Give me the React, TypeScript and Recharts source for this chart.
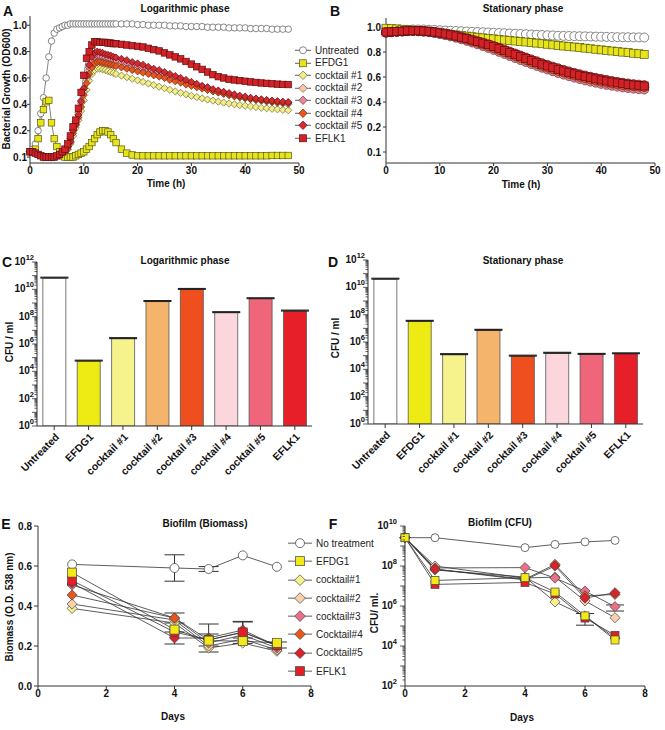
import React from "react";
import { LineChart, Line, BarChart, Bar, Cell, XAxis, YAxis, Legend, ErrorBar } from "recharts";

const FONT = "'Liberation Sans', Arial, Helvetica, sans-serif";

// ---------- Panel A: logarithmic phase growth (OD600) ----------
const timesA = [
  0, 0.5, 1, 1.5, 2, 2.5, 3, 3.5, 4, 4.5, 5, 5.5, 6, 6.5, 7, 7.5,
  8, 8.5, 9, 9.5, 10, 10.5, 11, 11.5, 12, 12.5, 13, 13.5, 14, 14.5, 15, 15.5, 16,
  17, 18, 19, 20, 21, 22, 23, 24, 25, 26, 27, 28, 29, 30, 31, 32,
  33, 34, 35, 36, 37, 38, 39, 40, 41, 42, 43, 44, 45, 46, 47, 48,
];
const untreatedA = [
  0.12, 0.13, 0.15, 0.2, 0.33, 0.45, 0.6, 0.76, 0.88, 0.94, 0.97, 0.98, 0.99, 1.0, 1.0, 1.01,
  1.01, 1.01, 1.01, 1.01, 1.01, 1.01, 1.01, 1.01, 1.01, 1.01, 1.01, 1.01, 1.01, 1.01, 1.01, 1.01, 1.01,
  1.01, 1.01, 1.01, 1.005, 1.005, 1.0, 1.0, 1.0, 1.0, 0.995, 0.995, 0.995, 0.99, 0.99, 0.99, 0.99,
  0.985, 0.985, 0.985, 0.985, 0.98, 0.98, 0.98, 0.98, 0.975, 0.975, 0.975, 0.975, 0.97, 0.97, 0.97, 0.97,
];
const efdg1A = [
  0.12, 0.12, 0.13, 0.17, 0.26, 0.36, 0.42, 0.43, 0.26, 0.17, 0.14, 0.12, 0.105, 0.1, 0.1, 0.1,
  0.1, 0.105, 0.11, 0.115, 0.12, 0.13, 0.14, 0.155, 0.17, 0.185, 0.195, 0.2, 0.2, 0.195, 0.185, 0.17, 0.155,
  0.13, 0.115, 0.108, 0.105, 0.105, 0.105, 0.105, 0.105, 0.105, 0.105, 0.105, 0.105, 0.105, 0.105, 0.105, 0.105,
  0.105, 0.105, 0.105, 0.105, 0.105, 0.105, 0.105, 0.105, 0.105, 0.105, 0.105, 0.105, 0.106, 0.106, 0.106, 0.106,
];
const cocktail1A = [
  0.12, 0.12, 0.115, 0.11, 0.105, 0.1, 0.1, 0.1, 0.1, 0.1, 0.105, 0.11, 0.115, 0.12, 0.13, 0.15,
  0.18, 0.22, 0.28, 0.35, 0.43, 0.51, 0.58, 0.63, 0.66, 0.67, 0.67, 0.665, 0.66, 0.652, 0.645, 0.638, 0.63,
  0.618, 0.606, 0.594, 0.582, 0.57, 0.558, 0.546, 0.534, 0.522, 0.51, 0.498, 0.487, 0.476, 0.465, 0.455, 0.445,
  0.436, 0.428, 0.42, 0.413, 0.406, 0.4, 0.394, 0.389, 0.384, 0.379, 0.374, 0.37, 0.366, 0.362, 0.358, 0.355,
];
const cocktail2A = [
  0.12, 0.12, 0.115, 0.11, 0.105, 0.1, 0.1, 0.1, 0.1, 0.1, 0.105, 0.11, 0.115, 0.12, 0.135, 0.16,
  0.2, 0.25, 0.32, 0.41, 0.5, 0.59, 0.66, 0.71, 0.74, 0.75, 0.75, 0.745, 0.74, 0.735, 0.725, 0.72, 0.715,
  0.705, 0.695, 0.685, 0.675, 0.665, 0.65, 0.64, 0.625, 0.615, 0.6, 0.59, 0.575, 0.56, 0.55, 0.535, 0.525,
  0.51, 0.5, 0.49, 0.48, 0.47, 0.46, 0.452, 0.445, 0.438, 0.432, 0.426, 0.42, 0.415, 0.41, 0.405, 0.4,
];
const cocktail3A = [
  0.12, 0.12, 0.115, 0.11, 0.105, 0.1, 0.1, 0.1, 0.1, 0.1, 0.105, 0.11, 0.115, 0.125, 0.14, 0.17,
  0.21, 0.27, 0.34, 0.43, 0.52, 0.61, 0.68, 0.73, 0.76, 0.77, 0.765, 0.76, 0.755, 0.75, 0.74, 0.735, 0.73,
  0.72, 0.71, 0.7, 0.69, 0.68, 0.665, 0.65, 0.64, 0.625, 0.61, 0.6, 0.585, 0.57, 0.56, 0.545, 0.535,
  0.52, 0.51, 0.5, 0.49, 0.48, 0.47, 0.46, 0.453, 0.446, 0.44, 0.434, 0.429, 0.424, 0.419, 0.415, 0.411,
];
const cocktail4A = [
  0.12, 0.12, 0.115, 0.11, 0.105, 0.1, 0.1, 0.1, 0.1, 0.1, 0.105, 0.11, 0.115, 0.12, 0.13, 0.155,
  0.19, 0.24, 0.3, 0.38, 0.47, 0.56, 0.63, 0.68, 0.71, 0.72, 0.72, 0.715, 0.71, 0.705, 0.7, 0.695, 0.69,
  0.68, 0.67, 0.66, 0.65, 0.64, 0.63, 0.62, 0.61, 0.6, 0.585, 0.575, 0.565, 0.55, 0.54, 0.53, 0.52,
  0.51, 0.5, 0.49, 0.48, 0.47, 0.462, 0.455, 0.448, 0.441, 0.435, 0.43, 0.425, 0.42, 0.416, 0.412, 0.41,
];
const cocktail5A = [
  0.12, 0.12, 0.115, 0.11, 0.105, 0.1, 0.1, 0.1, 0.1, 0.1, 0.105, 0.11, 0.115, 0.125, 0.14, 0.16,
  0.2, 0.25, 0.32, 0.42, 0.52, 0.62, 0.7, 0.76, 0.79, 0.8, 0.795, 0.79, 0.78, 0.775, 0.77, 0.76, 0.755,
  0.745, 0.735, 0.72, 0.71, 0.7, 0.685, 0.67, 0.66, 0.645, 0.63, 0.615, 0.6, 0.585, 0.57, 0.555, 0.54,
  0.53, 0.515, 0.505, 0.495, 0.485, 0.475, 0.465, 0.458, 0.45, 0.444, 0.438, 0.433, 0.428, 0.424, 0.42, 0.417,
];
const eflk1A = [
  0.12, 0.12, 0.115, 0.11, 0.105, 0.1, 0.1, 0.1, 0.1, 0.1, 0.105, 0.11, 0.12, 0.13, 0.15, 0.18,
  0.23, 0.28, 0.37, 0.49, 0.62, 0.75, 0.8, 0.85, 0.875, 0.875, 0.87, 0.87, 0.87, 0.865, 0.865, 0.86, 0.86,
  0.855, 0.85, 0.845, 0.84, 0.835, 0.825, 0.815, 0.805, 0.79, 0.775, 0.76, 0.745, 0.725, 0.705, 0.685, 0.665,
  0.645, 0.625, 0.61, 0.6, 0.59, 0.585, 0.58, 0.575, 0.57, 0.566, 0.562, 0.559, 0.556, 0.553, 0.551, 0.55,
];

// ---------- Panel B: stationary phase (OD600) ----------
const timesB = [
  0, 1, 2, 3, 4, 5, 6, 7, 8, 9, 10, 11, 12, 13, 14, 15, 16, 17, 18, 19, 20, 21, 22, 23, 24,
  25, 26, 27, 28, 29, 30, 31, 32, 33, 34, 35, 36, 37, 38, 39, 40, 41, 42, 43, 44, 45, 46, 47, 48,
];
const untreatedB = [
  0.96, 0.965, 0.97, 0.975, 0.978, 0.98, 0.98, 0.98, 0.978, 0.976,
  0.974, 0.972, 0.97, 0.968, 0.966, 0.964, 0.962, 0.96, 0.958, 0.956,
  0.954, 0.952, 0.95, 0.948, 0.946, 0.944, 0.942, 0.94, 0.938, 0.936,
  0.934, 0.932, 0.93, 0.929, 0.928, 0.927, 0.926, 0.925, 0.924, 0.923,
  0.922, 0.921, 0.92, 0.919, 0.918, 0.918, 0.917, 0.917, 0.916,
];
const efdg1B = [
  0.99, 0.988, 0.985, 0.982, 0.978, 0.975, 0.971, 0.967, 0.962, 0.957,
  0.952, 0.947, 0.942, 0.937, 0.932, 0.927, 0.922, 0.918, 0.913, 0.909,
  0.905, 0.9, 0.896, 0.892, 0.888, 0.884, 0.88, 0.875, 0.871, 0.866,
  0.862, 0.857, 0.853, 0.848, 0.844, 0.84, 0.835, 0.831, 0.826, 0.822,
  0.817, 0.813, 0.808, 0.804, 0.799, 0.795, 0.79, 0.786, 0.781,
];
const cocktail1B = [
  0.958, 0.961, 0.964, 0.966, 0.968, 0.969, 0.968, 0.966, 0.962, 0.957,
  0.951, 0.943, 0.934, 0.924, 0.913, 0.901, 0.889, 0.876, 0.863, 0.849,
  0.834, 0.819, 0.803, 0.787, 0.771, 0.755, 0.739, 0.723, 0.708, 0.693,
  0.679, 0.665, 0.652, 0.639, 0.627, 0.615, 0.604, 0.594, 0.584, 0.575,
  0.566, 0.558, 0.551, 0.544, 0.538, 0.533, 0.528, 0.524, 0.52,
];
const cocktail2B = [
  0.956, 0.959, 0.962, 0.965, 0.967, 0.968, 0.967, 0.965, 0.961, 0.956,
  0.949, 0.941, 0.932, 0.922, 0.911, 0.899, 0.887, 0.874, 0.86, 0.846,
  0.831, 0.815, 0.799, 0.783, 0.767, 0.751, 0.735, 0.719, 0.704, 0.689,
  0.675, 0.661, 0.648, 0.635, 0.623, 0.611, 0.6, 0.589, 0.579, 0.57,
  0.561, 0.553, 0.545, 0.538, 0.532, 0.527, 0.522, 0.518, 0.515,
];
const cocktail3B = [
  0.957, 0.96, 0.963, 0.965, 0.967, 0.967, 0.966, 0.963, 0.958, 0.952,
  0.944, 0.935, 0.925, 0.914, 0.902, 0.889, 0.876, 0.862, 0.848, 0.833,
  0.817, 0.801, 0.785, 0.768, 0.752, 0.736, 0.72, 0.704, 0.689, 0.674,
  0.66, 0.646, 0.632, 0.619, 0.607, 0.595, 0.584, 0.573, 0.563, 0.554,
  0.545, 0.537, 0.53, 0.523, 0.517, 0.512, 0.507, 0.503, 0.5,
];
const cocktail4B = [
  0.958, 0.96, 0.963, 0.966, 0.968, 0.969, 0.968, 0.966, 0.962, 0.957,
  0.95, 0.942, 0.933, 0.923, 0.912, 0.9, 0.888, 0.875, 0.861, 0.847,
  0.832, 0.816, 0.8, 0.784, 0.768, 0.752, 0.736, 0.72, 0.705, 0.69,
  0.676, 0.662, 0.649, 0.636, 0.624, 0.612, 0.601, 0.591, 0.581, 0.572,
  0.563, 0.555, 0.548, 0.541, 0.535, 0.53, 0.526, 0.523, 0.52,
];
const cocktail5B = [
  0.955, 0.958, 0.962, 0.965, 0.968, 0.969, 0.969, 0.968, 0.965, 0.961,
  0.955, 0.948, 0.94, 0.931, 0.921, 0.91, 0.899, 0.887, 0.875, 0.862,
  0.848, 0.834, 0.819, 0.804, 0.788, 0.772, 0.756, 0.741, 0.726, 0.711,
  0.697, 0.683, 0.67, 0.657, 0.645, 0.633, 0.622, 0.612, 0.602, 0.593,
  0.584, 0.576, 0.568, 0.561, 0.554, 0.548, 0.543, 0.539, 0.535,
];
const eflk1B = [
  0.96, 0.962, 0.965, 0.967, 0.97, 0.97, 0.97, 0.968, 0.965, 0.96,
  0.953, 0.945, 0.937, 0.928, 0.918, 0.907, 0.896, 0.884, 0.871, 0.858,
  0.844, 0.829, 0.813, 0.797, 0.781, 0.765, 0.749, 0.733, 0.717, 0.702,
  0.688, 0.674, 0.661, 0.648, 0.636, 0.625, 0.614, 0.604, 0.594, 0.585,
  0.576, 0.568, 0.56, 0.553, 0.547, 0.541, 0.536, 0.532, 0.528,
];

const timeTicks = [0, 10, 20, 30, 40, 50];
const odTickPos = [0, 0.2, 0.4, 0.6, 0.8, 1.0];
const odTickLabels = ["0.1", "0.2", "0.4", "0.6", "0.8", "1.0"];

// ---------- Panels C / D: CFU per ml ----------
const barCategories = ["Untreated", "EFDG1", "cocktail #1", "cocktail #2", "cocktail #3", "cocktail #4", "cocktail #5", "EFLK1"];
const cfuLog = [6.7e10, 5.7e4, 2.5e6, 1.3e9, 1.0e10, 2.0e8, 2.1e9, 2.6e8];
const cfuLogErr = [1e10, 8e3, 4e5, 2e8, 1.5e9, 3e7, 3e8, 4e7];
const cfuStat = [4.0e10, 3.3e7, 1.2e5, 7.2e6, 9.3e4, 1.5e5, 1.25e5, 1.4e5];
const cfuStatErr = [6e9, 5e6, 2e4, 1.2e6, 1.5e4, 2.5e4, 2e4, 2e4];
const barColors = ["#ffffff", "#eeea14", "#f6f38c", "#f5b46c", "#ef4e1f", "#fbd6dd", "#ef6579", "#e61f29"];
const cfuMajorExp = [0, 2, 4, 6, 8, 10, 12];

// ---------- Panel E: biofilm biomass ----------
const biomassDays = [1, 4, 5, 6, 7];
const eNoTreatment = [0.608, 0.59, 0.585, 0.653, 0.596];
const eNoTreatmentErr = [null, 0.066, 0.012, null, null];
const eEFDG1 = [0.567, 0.282, 0.227, 0.224, 0.216];
const eCocktail1 = [0.388, 0.315, 0.19, 0.215, 0.174];
const eCocktail2 = [0.41, 0.33, 0.2, 0.235, 0.18];
const eCocktail3 = [0.505, 0.34, 0.215, 0.255, 0.19];
const eCocktail4 = [0.455, 0.34, 0.23, 0.27, 0.2];
const eCocktail4Err = [null, 0.025, null, null, null];
const eCocktail5 = [0.515, 0.24, 0.24, 0.28, 0.2];
const eCocktail5Err = [null, 0.03, 0.07, 0.04, null];
const eEFLK1 = [0.527, 0.27, 0.23, 0.268, 0.205];
const eEFLK1Err = [null, null, 0.03, 0.055, 0.015];
const dayTicks = [0, 2, 4, 6, 8];
const biomassTicks = [0, 0.2, 0.4, 0.6, 0.8];

// ---------- Panel F: biofilm CFU ----------
const cfuDays = [0, 1, 4, 5, 6, 7];
const fNoTreatment = [2.6e9, 2.6e9, 8.3e8, 1.2e9, 1.6e9, 1.9e9];
const fEFDG1 = [2.6e9, 1.9e7, 2.6e7, 5e6, 3.2e5, 2e4];
const fEFDG1Err = [null, null, null, null, [2.1e5, 1e5], null];
const fCocktail1 = [2.6e9, 6.3e7, 2.8e7, 1.6e6, 3.2e5, 2.5e4];
const fCocktail2 = [2.6e9, 1e8, 2.5e7, 2.8e7, 1.8e6, 2.6e5];
const fCocktail3 = [2.6e9, 8e7, 8.3e7, 2.5e7, 5.6e6, 9.3e5];
const fCocktail3Err = [null, null, null, null, null, [3.7e5, 2e5]];
const fCocktail4 = [2.6e9, 7e7, 2.2e7, 1.2e8, 3.2e6, 3.8e6];
const fCocktail5 = [2.6e9, 7e7, 2e7, 1e8, 2.5e6, 4.6e6];
const fEFLK1 = [2.6e9, 1.2e7, 1.5e7, 4e6, 2.5e5, 3.4e4];
const biofilmCfuMajorExp = [2, 4, 6, 8, 10];

// ---------- helpers ----------
type Shape = "circle" | "square" | "diamond";

function Marker({ shape, cx, cy, size, fill, stroke, sw = 0.7 }: any) {
  const h = size / 2;
  if (shape === "circle") return <circle cx={cx} cy={cy} r={h} fill={fill} stroke={stroke} strokeWidth={sw} />;
  if (shape === "square")
    return <rect x={cx - h} y={cy - h} width={size} height={size} fill={fill} stroke={stroke} strokeWidth={sw} />;
  const d = h * 1.2;
  return (
    <polygon
      points={`${cx},${cy - d} ${cx + d},${cy} ${cx},${cy + d} ${cx - d},${cy}`}
      fill={fill}
      stroke={stroke}
      strokeWidth={sw}
    />
  );
}

const dotFor = (s: any, size: number, shape?: Shape) => (p: any) => {
  const k = `${s.key}-${p.index}`;
  if (p.cx == null || p.cy == null || p.value == null) return <g key={k} />;
  return <Marker key={k} shape={shape || s.shape} cx={p.cx} cy={p.cy} size={size} fill={s.fill} stroke={s.stroke} />;
};

function LegendList({ items, rowH, size, svgW, fontSize }: any) {
  return (
    <div style={{ fontFamily: FONT, fontSize, color: "#222" }}>
      {items.map((it: any) => (
        <div key={it.key} style={{ display: "flex", alignItems: "center", height: rowH, whiteSpace: "nowrap" }}>
          <svg width={svgW} height={rowH} style={{ flex: "none" }}>
            <line x1={1} x2={svgW - 1} y1={rowH / 2} y2={rowH / 2} stroke="#333" strokeWidth={0.8} />
            <Marker shape={it.shape} cx={svgW / 2} cy={rowH / 2} size={size} fill={it.fill} stroke={it.stroke} />
          </svg>
          <span style={{ marginLeft: 3 }}>{it.name}</span>
        </div>
      ))}
    </div>
  );
}

function Txt({ x, y, size = 10, bold = true, rot = false, children }: any) {
  return (
    <div
      style={{
        position: "absolute",
        left: x,
        top: y,
        transform: `translate(-50%,-50%)${rot ? " rotate(-90deg)" : ""}`,
        fontFamily: FONT,
        fontSize: size,
        fontWeight: bold ? 700 : 400,
        whiteSpace: "nowrap",
        color: "#111",
        lineHeight: 1,
      }}
    >
      {children}
    </div>
  );
}

// segmented OD axis: 0.1-0.2 drawn with the same length as 0.2-0.4
const brk = (v: number) => (v >= 0.2 ? v : 0.2 - (0.2 - v) * 2);

const logTicksFor = (lo: number, hi: number) => {
  const out: number[] = [];
  for (let e = lo; e < hi; e++) for (let m = 1; m < 10; m++) out.push(m * Math.pow(10, e));
  out.push(Math.pow(10, hi));
  return out;
};

const logTick = (axisX: number, majors: number[], gap: number) => (p: any) => {
  const v = p.payload.value;
  const e = Math.round(Math.log10(v));
  const isPow = Math.abs(v - Math.pow(10, e)) < v * 1e-6;
  const len = isPow ? 5 : 2.5;
  return (
    <g>
      <line x1={axisX} x2={axisX - len} y1={p.y} y2={p.y} stroke="#333" strokeWidth={0.8} />
      {isPow && majors.includes(e) && (
        <text x={axisX - gap} y={p.y + 3} textAnchor="end" fontSize={10} fontWeight="bold" fill="#111" fontFamily={FONT}>
          10
          <tspan dy={-5} fontSize={7.5}>
            {e}
          </tspan>
        </text>
      )}
    </g>
  );
};

const RotTick = (p: any) => (
  <g transform={`translate(${p.x},${p.y}) rotate(-45)`}>
    <text x={0} y={0} dy={8} textAnchor="end" fontSize={10.5} fontWeight="bold" fill="#111" fontFamily={FONT}>
      {p.payload.value}
    </text>
  </g>
);

const tickStyle = { fontSize: 10, fontWeight: "bold", fill: "#111", fontFamily: FONT };

// ---------- series definitions ----------
const seriesGrowth = [
  { key: "untreated", name: "Untreated", shape: "circle", fill: "#ffffff", stroke: "#555", a: untreatedA, b: untreatedB },
  { key: "efdg1", name: "EFDG1", shape: "square", fill: "#e8e41a", stroke: "#5a5a10", a: efdg1A, b: efdg1B },
  { key: "c1", name: "cocktail #1", shape: "diamond", fill: "#f2ee8a", stroke: "#6b6b30", a: cocktail1A, b: cocktail1B },
  { key: "c2", name: "cocktail #2", shape: "diamond", fill: "#f6c6a6", stroke: "#7a5a4a", a: cocktail2A, b: cocktail2B },
  { key: "c3", name: "cocktail #3", shape: "diamond", fill: "#e8879a", stroke: "#6a3040", a: cocktail3A, b: cocktail3B },
  { key: "c4", name: "cocktail #4", shape: "diamond", fill: "#e8561f", stroke: "#6a2a10", a: cocktail4A, b: cocktail4B },
  { key: "c5", name: "cocktail #5", shape: "diamond", fill: "#d52a30", stroke: "#5a1010", a: cocktail5A, b: cocktail5B },
  { key: "eflk1", name: "EFLK1", shape: "square", fill: "#d42027", stroke: "#5a1010", a: eflk1A, b: eflk1B },
];

const rowsA = timesA.map((t, i) => {
  const r: any = { t };
  seriesGrowth.forEach((s) => (r[s.key] = brk(s.a[i])));
  return r;
});
const rowsB = timesB.map((t, i) => {
  const r: any = { t };
  seriesGrowth.forEach((s) => (r[s.key] = brk(s.b[i])));
  return r;
});

const rowsC = barCategories.map((name, i) => ({ name, value: cfuLog[i], err: [0, cfuLogErr[i]] }));
const rowsD = barCategories.map((name, i) => ({ name, value: cfuStat[i], err: [0, cfuStatErr[i]] }));

const seriesBiofilm = [
  { key: "nt", name: "No treatment", shape: "circle", fill: "#ffffff", stroke: "#333", e: eNoTreatment, eErr: eNoTreatmentErr, f: fNoTreatment },
  { key: "c1", name: "cocktail#1", shape: "diamond", fill: "#f7f08e", stroke: "#444", e: eCocktail1, f: fCocktail1 },
  { key: "c2", name: "cocktail#2", shape: "diamond", fill: "#f9d2ad", stroke: "#444", e: eCocktail2, f: fCocktail2 },
  { key: "c3", name: "cocktail#3", shape: "diamond", fill: "#ea6f88", stroke: "#444", e: eCocktail3, f: fCocktail3, fErr: fCocktail3Err },
  { key: "c4", name: "Cocktail#4", shape: "diamond", fill: "#e8571a", stroke: "#444", e: eCocktail4, eErr: eCocktail4Err, f: fCocktail4 },
  { key: "c5", name: "Cocktail#5", shape: "diamond", fill: "#d8232c", stroke: "#444", e: eCocktail5, eErr: eCocktail5Err, f: fCocktail5 },
  { key: "eflk1", name: "EFLK1", shape: "square", fill: "#e41e26", stroke: "#444", e: eEFLK1, eErr: eEFLK1Err, f: fEFLK1 },
  { key: "efdg1", name: "EFDG1", shape: "square", fill: "#f2ea16", stroke: "#444", e: eEFDG1, f: fEFDG1, fErr: fEFDG1Err },
];
const legendOrderBiofilm = ["nt", "efdg1", "c1", "c2", "c3", "c4", "c5", "eflk1"].map((k) =>
  seriesBiofilm.find((s) => s.key === k)
);

const rowsE = biomassDays.map((day, i) => {
  const r: any = { day };
  seriesBiofilm.forEach((s: any) => {
    r[s.key] = s.e[i];
    if (s.eErr && s.eErr[i] != null) r[s.key + "Err"] = s.eErr[i];
  });
  return r;
});
const rowsF = cfuDays.map((day, i) => {
  const r: any = { day };
  seriesBiofilm.forEach((s: any) => {
    r[s.key] = s.f[i];
    if (s.fErr && s.fErr[i] != null) r[s.key + "Err"] = s.fErr[i];
  });
  return r;
});

function GrowthChart({ rows, domain, yWidth, margin, width, legend }: any) {
  return (
    <LineChart width={width} height={200} data={rows} margin={margin}>
      <XAxis dataKey="t" type="number" domain={[0, 50]} ticks={timeTicks} tick={tickStyle} tickSize={3} tickMargin={1} stroke="#333" height={26} />
      <YAxis
        type="number"
        domain={domain}
        ticks={odTickPos}
        tickFormatter={(v: number, i: number) => odTickLabels[i]}
        width={yWidth}
        tick={tickStyle}
        tickSize={3}
        tickMargin={legend ? 0 : 2}
        stroke="#333"
        allowDataOverflow
      />
      {legend && (
        <Legend
          layout="vertical"
          align="center"
          verticalAlign="middle"
          wrapperStyle={{ left: 294, top: 44, width: 76 }}
          content={() => <LegendList items={seriesGrowth} rowH={12.55} size={7} svgW={18} fontSize={10} />}
        />
      )}
      {seriesGrowth.map((s) => (
        <Line
          key={s.key}
          dataKey={s.key}
          type="linear"
          stroke="#333"
          strokeWidth={0.6}
          dot={legend ? dotFor(s, s.shape === "diamond" ? 6 : 6.5) : dotFor(s, s.shape === "square" ? 8 : 9, s.shape === "square" ? "square" : "circle")}
          activeDot={false}
          isAnimationActive={false}
        />
      ))}
    </LineChart>
  );
}

function CfuBars({ rows, width, margin, yWidth, xHeight }: any) {
  return (
    <BarChart width={width} height={240} data={rows} margin={margin} barCategoryGap="17%">
      <XAxis dataKey="name" type="category" interval={0} height={xHeight} tick={RotTick} tickSize={4} stroke="#333" />
      <YAxis
        type="number"
        scale="log"
        domain={[1, 1e12]}
        ticks={logTicksFor(0, 12)}
        interval={0}
        width={yWidth}
        tick={logTick(yWidth, cfuMajorExp, 3)}
        tickLine={false}
        stroke="#333"
        allowDataOverflow
      />
      <Bar dataKey="value" isAnimationActive={false} stroke="#555" strokeWidth={0.8}>
        {rows.map((_: any, i: number) => (
          <Cell key={i} fill={barColors[i]} />
        ))}
        <ErrorBar dataKey="err" width={14} stroke="#222" strokeWidth={1.2} direction="y" />
      </Bar>
    </BarChart>
  );
}

export default function App() {
  return (
    <div style={{ position: "absolute", left: 0, top: 0, width: 665, height: 730, background: "#fff", overflow: "hidden" }}>
      {/* A */}
      <div style={{ position: "absolute", left: 0, top: 0 }}>
        <GrowthChart rows={rowsA} domain={[-0.045, 1.07]} yWidth={30} width={370} margin={{ top: 16, right: 71, bottom: 11, left: 0 }} legend />
      </div>
      {/* B */}
      <div style={{ position: "absolute", left: 345, top: 0 }}>
        <GrowthChart rows={rowsB} domain={[-0.088, 1.072]} yWidth={41} width={320} margin={{ top: 18, right: 10, bottom: 11, left: 0 }} />
      </div>
      {/* C */}
      <div style={{ position: "absolute", left: 0, top: 240 }}>
        <CfuBars rows={rowsC} width={320} yWidth={37} xHeight={54} margin={{ top: 22, right: 8, bottom: 0, left: 0 }} />
      </div>
      {/* D */}
      <div style={{ position: "absolute", left: 330, top: 240 }}>
        <CfuBars rows={rowsD} width={335} yWidth={38} xHeight={56} margin={{ top: 20, right: 22, bottom: 0, left: 0 }} />
      </div>
      {/* E */}
      <div style={{ position: "absolute", left: 0, top: 500 }}>
        <LineChart width={380} height={230} data={rowsE} margin={{ top: 26, right: 69, bottom: 3, left: 0 }}>
          <XAxis dataKey="day" type="number" domain={[0, 8]} ticks={dayTicks} tick={tickStyle} tickSize={3} tickMargin={1} stroke="#333" height={41} />
          <YAxis
            type="number"
            domain={[0, 0.8]}
            ticks={biomassTicks}
            tickFormatter={(v: number) => v.toFixed(1)}
            width={38}
            tick={tickStyle}
            tickSize={4}
            tickMargin={2}
            stroke="#333"
          />
          <Legend
            layout="vertical"
            align="center"
            verticalAlign="middle"
            wrapperStyle={{ left: 287, top: 34, width: 93 }}
            content={() => <LegendList items={legendOrderBiofilm} rowH={18.3} size={9} svgW={26} fontSize={10} />}
          />
          {seriesBiofilm.map((s: any) => (
            <Line
              key={s.key}
              dataKey={s.key}
              type="linear"
              stroke="#333"
              strokeWidth={0.8}
              dot={dotFor(s, s.shape === "diamond" ? 8.5 : 9)}
              activeDot={false}
              isAnimationActive={false}
            >
              {s.eErr && <ErrorBar dataKey={s.key + "Err"} width={10} stroke="#333" strokeWidth={1} direction="y" />}
            </Line>
          ))}
        </LineChart>
      </div>
      {/* F */}
      <div style={{ position: "absolute", left: 365, top: 500 }}>
        <LineChart width={300} height={230} data={rowsF} margin={{ top: 26, right: 20, bottom: 3, left: 0 }}>
          <XAxis dataKey="day" type="number" domain={[0, 8]} ticks={dayTicks} tick={tickStyle} tickSize={3} tickMargin={1} stroke="#333" height={41} />
          <YAxis
            type="number"
            scale="log"
            domain={[1e2, 1e10]}
            ticks={logTicksFor(2, 10)}
            interval={0}
            width={40}
            tick={logTick(40, biofilmCfuMajorExp, 8)}
            tickLine={false}
            stroke="#333"
            allowDataOverflow
          />
          {seriesBiofilm.map((s: any) => (
            <Line
              key={s.key}
              dataKey={s.key}
              type="linear"
              stroke="#333"
              strokeWidth={0.8}
              dot={dotFor(s, s.shape === "diamond" ? 8.5 : 8)}
              activeDot={false}
              isAnimationActive={false}
            >
              {s.fErr && <ErrorBar dataKey={s.key + "Err"} width={9} stroke="#333" strokeWidth={1} direction="y" />}
            </Line>
          ))}
        </LineChart>
      </div>

      {/* panel letters, titles, axis titles */}
      <Txt x={8} y={11} size={14}>A</Txt>
      <Txt x={335} y={11} size={14}>B</Txt>
      <Txt x={7} y={262} size={14}>C</Txt>
      <Txt x={333} y={262} size={14}>D</Txt>
      <Txt x={6} y={524} size={14}>E</Txt>
      <Txt x={333} y={524} size={14}>F</Txt>

      <Txt x={185} y={9}>Logarithmic phase</Txt>
      <Txt x={523} y={9}>Stationary phase</Txt>
      <Txt x={185} y={261}>Logarithmic phase</Txt>
      <Txt x={523} y={261}>Stationary phase</Txt>
      <Txt x={205} y={524}>Biofilm (Biomass)</Txt>
      <Txt x={500} y={523}>Biofilm (CFU)</Txt>

      <Txt x={166} y={184}>Time (h)</Txt>
      <Txt x={521} y={185}>Time (h)</Txt>
      <Txt x={173} y={717}>Days</Txt>
      <Txt x={522} y={718}>Days</Txt>

      <Txt x={7} y={89} rot>Bacterial Growth (OD600)</Txt>
      <Txt x={10} y={342} rot>CFU / ml</Txt>
      <Txt x={336} y={338} rot>CFU / ml</Txt>
      <Txt x={10} y={607} rot>Biomass (O.D. 538 nm)</Txt>
      <Txt x={375} y={613} rot>CFU/ ml.</Txt>
    </div>
  );
}
